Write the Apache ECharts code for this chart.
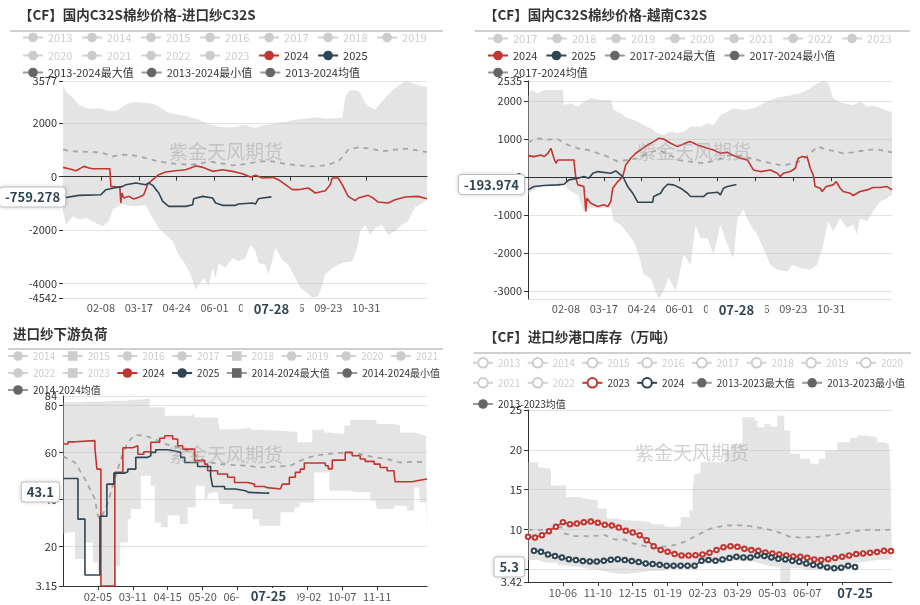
<!DOCTYPE html>
<html><head><meta charset="utf-8">
<script src="https://cdn.jsdelivr.net/npm/echarts@6/dist/echarts.min.js"></script>
<style>html,body{margin:0;padding:0;background:#fff}#c{width:920px;height:605px}</style>
</head><body><div id="c"></div>
<script>
// ================= DATA =================
// category axes: calendar year (with 02-29) and cotton season (09-01 .. 08-31)
function makeDays(y, m, n) {
  const out = [], t0 = Date.UTC(y, m, 1);
  for (let i = 0; i < n; i++) {
    const d = new Date(t0 + i * 86400000);
    out.push(String(d.getUTCMonth() + 1).padStart(2, '0') + '-' + String(d.getUTCDate()).padStart(2, '0'));
  }
  return out;
}
const calDays = makeDays(2024, 0, 366);
const seasonDays = makeDays(2023, 8, 366);
const topLabelStep = 38;     // 02-08, 03-17, 04-24 ...
const bottomLabelStep = 35;  // 02-05, 03-11 ... / 10-06, 11-10 ...

// ---- panel A: 国内C32S-进口纱C32S ----
const aHiddenYears = ['2013','2014','2015','2016','2017','2018','2019','2020','2021','2022','2023'];
const aBandDates = ['01-01','01-04','01-11','01-17','01-24','01-31','02-06','02-10','02-16','02-20','02-25','03-01','03-07','03-14','03-24','03-27','03-31','04-06','04-13','04-20','04-26','05-03','05-08','05-13','05-16','05-21','05-26','05-30','06-02','06-05','06-12','06-19','06-25','07-02','07-07','07-12','07-15','07-22','07-25','07-29','08-01','08-08','08-14','08-21','08-26','08-31','09-07','09-13','09-17','09-20','09-27','10-07','10-10','10-13','10-17','10-22','10-25','10-30','11-04','11-09','11-16','11-22','11-29','12-06','12-11','12-12','12-19','12-26','12-31'];
const aBandMax = [3439,3189,2940,2690,2566,2541,2566,2516,2466,2441,2478,2628,2753,2790,2753,2740,2728,2628,2441,2354,2316,2279,2216,2167,2129,2042,1967,1917,1892,1867,1842,1842,1892,1942,1867,1818,1867,1942,1942,1980,2005,2042,2067,2129,2142,2167,2204,2216,2192,2167,2179,2204,2940,3189,3227,3214,3127,2753,2591,2503,2815,3065,3314,3501,3577,3551,3464,3376,3376];
const aBandMin = [-1300,-1799,-1487,-1612,-1549,-1674,-1799,-1861,-1674,-1238,-1113,-1026,-1088,-1113,-1051,-1300,-1549,-1924,-2173,-2422,-2921,-3295,-3669,-4230,-4043,-3794,-4106,-3420,-3794,-3233,-3420,-3046,-3171,-3046,-2547,-2796,-3233,-3295,-3669,-3108,-2672,-3108,-3295,-3794,-4168,-4293,-4542,-4480,-4043,-3669,-3420,-3233,-3208,-3196,-3171,-2672,-2048,-1799,-2173,-1924,-1799,-2173,-2048,-1799,-1699,-1674,-1150,-1000,-880];
const aMean = [['01-01',1007],['01-11',945],['01-31',920],['02-10',882],['02-20',758],['03-01',820],['03-11',795],['03-24',695],['04-06',570],['04-16',508],['04-26',471],['05-06',446],['05-16',471],['05-26',570],['06-05',508],['06-19',421],['07-02',471],['07-15',570],['07-29',570],['08-11',471],['08-24',421],['09-07',383],['09-20',421],['10-03',570],['10-08',758],['10-13',1007],['10-23',1094],['11-05',1044],['11-16',945],['11-29',1007],['12-12',1044],['12-31',920]];
const a2024 = [['01-01',346],['01-07',296],['01-14',221],['01-16',171],['01-22',383],['01-24',446],['01-27',321],['01-31',296],['02-17',296],['02-18',-365],['02-27',-402],['02-28',-988],['02-29',-614],['03-02',-801],['03-07',-739],['03-12',-839],['03-17',-776],['03-22',-677],['03-26',-277],['03-31',-115],['04-06',72],['04-13',171],['04-23',221],['05-03',258],['05-10',346],['05-13',408],['05-20',346],['05-30',196],['06-09',258],['06-19',196],['06-29',109],['07-07',-16],['07-12',47],['07-19',-53],['07-29',-28],['08-04',-115],['08-11',-302],['08-18',-489],['08-24',-489],['09-03',-427],['09-10',-614],['09-20',-527],['09-25',-302],['09-27',-53],['10-03',-53],['10-07',-302],['10-13',-739],['10-20',-901],['10-23',-801],['11-02',-701],['11-07',-801],['11-12',-951],['11-22',-988],['11-29',-864],['12-09',-764],['12-22',-739],['12-31',-826]];
const a2025 = [['01-01',-801],['01-17',-701],['02-08',-677],['02-13',-489],['02-21',-427],['03-01',-365],['03-04',-302],['03-14',-240],['03-24',-302],['03-27',-240],['03-31',-327],['04-06',-614],['04-10',-926],['04-16',-1113],['05-03',-1113],['05-10',-1051],['05-11',-826],['05-20',-739],['05-30',-801],['06-02',-988],['06-09',-1075],['06-22',-1075],['06-25',-1026],['07-09',-988],['07-12',-1026],['07-15',-826],['07-19',-801],['07-28',-759.278]];

// ---- panel B: 国内C32S-越南C32S ----
const bHiddenYears = ['2017','2018','2019','2020','2021','2022','2023'];
const bBandDates = ['01-01','01-04','01-11','01-17','01-27','02-05','02-06','02-13','02-20','02-26','03-04','03-14','03-24','03-27','04-03','04-10','04-16','04-21','04-26','05-03','05-08','05-11','05-16','05-21','05-25','05-28','05-31','06-05','06-12','06-17','06-22','06-29','07-05','07-12','07-19','07-25','07-29','08-04','08-11','08-18','08-24','08-31','09-07','09-17','09-22','09-30','10-10','10-17','10-23','10-28','11-02','11-09','11-16','11-22','11-26','11-29','12-06','12-12','12-19','12-26','12-31'];
const bBandMax = [2122,2297,2209,2297,2297,2297,1902,1946,1859,1990,2078,2034,2034,1771,1683,1552,1508,1446,1376,1289,1201,1157,1113,1183,1201,1166,1175,1201,1332,1332,1332,1420,1376,1639,1727,1815,1797,1771,1797,1859,1946,2034,2095,2148,2166,2209,2341,2472,2535,2481,2078,1973,1920,1902,1946,2008,1859,1885,1832,1753,1727];
const bBandMin = [-466,-378,-273,-202,-220,-202,-202,-378,-466,-920,-800,-820,-800,-1167,-1255,-1474,-1693,-2044,-2570,-2658,-3009,-3209,-3009,-2658,-2833,-3009,-2658,-2044,-2307,-1255,-1606,-1606,-2044,-1255,-1781,-2132,-1079,-860,-1255,-1518,-1869,-2307,-2439,-2482,-2307,-2395,-2439,-2307,-1781,-1167,-1430,-1079,-1343,-1255,-1518,-1079,-1167,-904,-641,-553,-466];
const bMean = [['01-01',920],['01-11',1020],['01-21',990],['01-31',1000],['02-10',850],['02-20',762],['03-01',718],['03-11',631],['03-21',543],['03-31',412],['04-10',455],['04-20',499],['04-30',631],['05-10',718],['05-20',631],['05-30',455],['06-12',412],['06-25',368],['07-09',455],['07-22',587],['08-04',543],['08-18',455],['08-31',368],['09-13',306],['09-23',368],['10-03',455],['10-10',631],['10-17',806],['10-23',762],['11-02',692],['11-12',631],['11-22',657],['12-06',718],['12-16',736],['12-31',657]];
const b2024 = [['01-01',569],['01-07',543],['01-14',587],['01-17',543],['01-21',631],['01-24',762],['01-27',499],['01-29',368],['01-31',455],['02-16',455],['02-18',-27],['02-20',-202],['02-26',-246],['02-28',-904],['02-29',-553],['03-04',-685],['03-11',-772],['03-17',-728],['03-21',-772],['03-24',-641],['03-26',-290],['03-31',-115],['04-05',17],['04-08',324],['04-13',499],['04-18',631],['04-23',718],['04-30',850],['05-06',938],['05-11',1025],['05-16',1008],['05-23',894],['05-30',806],['06-09',920],['06-12',938],['06-19',850],['06-29',762],['07-05',718],['07-12',631],['07-19',657],['07-25',569],['08-01',499],['08-08',455],['08-11',324],['08-14',192],['08-21',148],['08-31',192],['09-07',105],['09-10',17],['09-13',105],['09-20',148],['09-25',236],['09-28',499],['10-02',543],['10-07',526],['10-10',236],['10-13',61],['10-15',-246],['10-20',-290],['10-22',-378],['10-26',-246],['11-02',-202],['11-05',-115],['11-09',-290],['11-12',-378],['11-19',-422],['11-22',-483],['11-29',-378],['12-06',-334],['12-12',-273],['12-19',-273],['12-26',-246],['12-31',-334]];
const b2025 = [['01-01',-334],['01-07',-246],['01-17',-220],['01-31',-202],['02-06',-185],['02-11',-70],['02-20',-27],['02-26',17],['03-02',-27],['03-06',105],['03-11',148],['03-24',105],['03-29',166],['04-03',61],['04-06',-27],['04-10',-246],['04-15',-422],['04-20',-658],['05-05',-658],['05-06',-509],['05-13',-422],['05-16',-290],['05-20',-185],['05-26',-202],['06-02',-290],['06-09',-422],['06-12',-509],['06-25',-509],['06-29',-422],['07-09',-395],['07-12',-465],['07-15',-290],['07-19',-246],['07-28',-193.974]];

// ---- panel C: 进口纱下游负荷 ----
const cHiddenYears = ['2014','2015','2016','2017','2018','2019','2020','2021','2022','2023'];
const cBandDates = ['01-01','01-06','01-13','01-19','01-23','01-31','02-05','02-08','02-23','02-27','03-06','03-09','03-19','03-28','03-29','04-02','04-08','04-12','04-15','04-27','05-05','05-08','05-12','05-13','05-22','05-25','06-01','06-04','06-06','06-19','06-24','07-07','07-09','07-16','08-06','08-20','08-23','08-25','09-07','09-09','09-19','09-22','09-24','10-09','10-15','10-22','11-04','11-09','11-11','11-28','12-04','12-11','12-18','12-23','12-24','12-30','12-31'];
const cBandMax = [81.3,81.3,81.3,81.6,81.6,81.6,81.6,82.0,82.0,82.0,82.4,82.4,83.0,79.2,79.2,79.2,79.2,75.6,75.6,75.6,75.6,76.3,74.9,74.9,74.9,74.9,74.9,74.9,69.9,69.9,70.6,69.6,69.6,69.2,68.8,68.8,64.3,64.3,69.6,69.6,68.5,67.8,67.8,71.4,73.9,73.9,73.9,73.9,72.1,71.4,68.5,68.5,67.8,67.8,67.1,67.1,67.1];
const cBandMin = [25.3,26.0,14.6,14.6,21.7,13.2,9.0,3.15,11.8,21.7,31.6,35.9,50.1,50.1,45.8,30.2,28.1,28.1,33.1,29.5,36.6,36.6,36.6,45.8,40.2,42.3,43.0,38.0,38.0,35.9,35.9,35.9,31.6,28.8,34.5,36.6,36.6,38.7,38.7,51.5,51.5,51.5,43.7,43.7,43.7,43.0,39.5,35.9,35.9,37.3,37.3,35.2,45.1,38.7,38.7,26.0,26.0];
const cMean = [['01-01',58.3],['01-13',55.7],['01-23',48.7],['02-02',40.2],['02-05',33.0],['02-08',31.6],['02-15',38.7],['02-22',48.7],['02-28',57.2],['03-06',64.3],['03-13',67.4],['03-23',67.1],['04-02',65.7],['04-08',64.3],['04-18',62.8],['04-28',62.1],['05-08',60.0],['05-18',57.2],['05-28',55.7],['06-07',55.0],['06-21',54.6],['07-04',54.3],['07-17',53.6],['08-03',54.0],['08-16',54.3],['08-26',56.5],['09-09',58.6],['09-22',59.3],['10-12',60.0],['10-25',59.3],['11-08',57.9],['11-21',57.2],['12-04',55.7],['12-18',56.0],['12-31',55.7]];
const c2024 = [['01-01',63.6],['01-06',64.5],['01-13',65.0],['02-02',62.0],['02-04',52.9],['02-08',3.15],['02-22',51.5],['03-01',62.0],['03-11',62.8],['03-16',59.2],['03-22',60.3],['03-29',64.3],['04-07',66.0],['04-12',67.1],['04-20',65.7],['04-25',62.8],['04-30',61.4],['05-12',56.5],['05-22',55.0],['05-25',52.2],['06-04',50.8],['06-14',49.4],['06-21',47.2],['07-04',46.5],['07-11',45.5],['07-21',45.0],['07-24',44.4],['08-06',45.1],['08-08',46.5],['08-15',49.4],['08-21',51.5],['08-26',52.9],['08-30',55.5],['09-20',54.3],['09-23',53.0],['09-27',56.7],['10-10',60.0],['10-17',58.6],['10-25',57.2],['10-30',56.2],['11-08',55.0],['11-14',53.6],['11-21',52.2],['11-28',51.0],['11-29',47.5],['12-16',47.9],['12-21',48.7],['12-31',48.7]];
const c2025 = [['01-01',48.9],['01-16',31.6],['01-23',7.8],['02-07',32.8],['02-14',46.5],['02-21',51.2],['03-03',51.8],['03-06',52.9],['03-14',57.9],['03-26',58.6],['03-29',60.0],['04-03',61.1],['04-15',60.6],['04-22',60.0],['04-28',57.9],['05-02',55.7],['05-15',54.0],['05-28',50.1],['05-30',45.5],['06-11',44.4],['06-22',43.7],['07-02',43.0],['07-05',42.6],['07-25',43.1]];

// ---- panel D: 进口纱港口库存（万吨） ----
const dHiddenYears = ['2013','2014','2015','2016','2017','2018','2019','2020','2021','2022'];
const dBandDates = ['09-01','09-11','09-14','09-24','10-01','10-09','10-23','10-28','11-10','11-19','11-30','12-07','12-20','01-02','01-16','01-29','02-01','02-10','02-13','02-15','02-21','03-11','03-16','03-22','04-03','04-15','04-18','04-25','05-01','05-08','05-11','05-15','05-21','05-31','06-10','06-17','06-19','06-25','07-07','07-20','07-27','08-03','08-16','08-23','08-28','08-29','08-31'];
const dBandMax = [18.46,17.8,17.63,15.54,15.54,14.09,13.9,13.67,12.63,11.38,11.17,11.1,10.96,10.67,10.34,10.55,11.58,12.42,14.92,17.0,18.46,18.58,19.92,20.75,24.09,23.67,22.84,23.25,22.92,24.3,24.3,22.42,19.5,18.88,18.25,17.84,18.88,19.92,20.96,21.5,21.8,21.6,20.96,20.75,20.3,19.09,19.09];
const dBandMin = [6.17,6.17,6.0,5.84,5.54,5.45,5.3,5.13,4.92,4.7,4.5,4.42,4.59,4.84,5.13,5.3,5.33,5.54,5.6,5.6,5.84,5.96,6.0,6.08,6.08,5.96,5.84,5.6,5.4,5.33,3.42,3.42,5.13,5.13,4.92,4.92,5.0,5.1,5.1,5.75,5.84,5.96,6.17,6.2,6.25,6.59,6.59];
const dMean = [['09-01',10.0],['09-11',9.92],['09-24',10.13],['10-04',10.34],['10-08',9.5],['10-18',9.17],['11-03',9.17],['11-17',9.3],['11-27',8.75],['12-07',8.75],['12-13',8.34],['12-27',7.92],['01-09',7.84],['01-22',7.92],['02-05',8.46],['02-18',9.3],['03-02',10.13],['03-16',10.5],['03-29',10.55],['04-11',10.42],['04-25',10.13],['05-08',9.71],['05-21',9.09],['05-31',9.0],['06-17',9.09],['06-30',9.3],['07-14',9.5],['07-27',9.84],['08-09',10.0],['08-23',9.92],['08-31',10.0]];
const d2023Dates = ['09-01','09-08','09-15','09-22','09-29','10-06','10-13','10-20','10-27','11-03','11-10','11-17','11-24','12-01','12-08','12-15','12-22','12-29','01-05','01-12','01-19','01-26','02-02','02-09','02-16','02-23','03-01','03-08','03-15','03-22','03-29','04-05','04-12','04-19','04-26','05-03','05-10','05-17','05-24','05-31','06-07','06-14','06-21','06-28','07-05','07-12','07-19','07-26','08-02','08-09','08-16','08-23','08-30'];
const d2023Values = [9.09,9.0,9.3,9.79,10.34,10.92,10.67,10.75,10.92,11.0,10.84,10.59,10.5,10.25,9.84,9.63,9.3,8.67,7.92,7.42,7.21,6.92,6.75,6.75,6.79,6.88,7.09,7.42,7.79,7.92,7.84,7.59,7.42,7.34,7.13,7.0,6.88,6.75,6.63,6.59,6.46,6.25,6.17,6.29,6.42,6.59,6.75,6.92,7.0,7.09,7.17,7.34,7.3];
const d2024Dates = ['09-07','09-14','09-21','09-28','10-05','10-12','10-19','10-26','11-02','11-09','11-16','11-23','11-30','12-07','12-14','12-21','12-28','01-04','01-11','01-18','01-25','02-01','02-08','02-15','02-22','02-29','03-07','03-14','03-21','03-28','04-04','04-11','04-18','04-25','05-02','05-09','05-16','05-23','05-30','06-06','06-13','06-20','06-27','07-04','07-11','07-18','07-25'];
const d2024Values = [7.34,7.21,6.88,6.67,6.5,6.29,6.17,6.04,6.0,6.0,6.08,6.21,6.29,6.17,6.04,5.92,5.75,5.67,5.58,5.46,5.46,5.46,5.46,5.46,6.08,6.17,6.08,6.25,6.42,6.59,6.5,6.5,6.75,6.67,6.5,6.33,6.25,6.08,5.96,5.75,5.58,5.46,5.25,5.13,5.21,5.46,5.3];

// ================= STYLE / BUILD =================
const RED = '#c23531', DARK = '#2f4554', GREY = '#666';
const FONT = "'Noto Sans CJK SC', 'Noto Sans', sans-serif";
const lastOf = arr => arr[arr.length - 1];
const intervalFn = step => (idx) => idx > 0 && idx % step === 0 && idx < 340;

const series = [];
function ghost(prefix, years, xi, yi, symbolFor) {
  years.forEach(y => series.push({
    name: prefix + y, type: 'line', xAxisIndex: xi, yAxisIndex: yi, data: [],
    symbol: symbolFor ? symbolFor(y) : 'circle', itemStyle: { color: '#ccc' }
  }));
}
function band(prefix, maxName, minName, dates, maxArr, minArr, xi, yi, step, maxSymbol) {
  series.push({
    name: prefix + minName, type: 'line', xAxisIndex: xi, yAxisIndex: yi,
    data: dates.map((d, i) => [d, minArr[i]]), stack: prefix + 'band', stackStrategy: 'all',
    step: step, symbol: 'circle', showSymbol: false, silent: true,
    lineStyle: { opacity: 0 }, itemStyle: { color: GREY }
  });
  series.push({
    name: prefix + maxName, type: 'line', xAxisIndex: xi, yAxisIndex: yi,
    data: dates.map((d, i) => [d, +(maxArr[i] - minArr[i]).toFixed(3)]), stack: prefix + 'band', stackStrategy: 'all',
    step: step, symbol: maxSymbol || 'circle', showSymbol: false, silent: true,
    lineStyle: { opacity: 0 }, itemStyle: { color: GREY },
    areaStyle: { color: 'rgba(190,190,190,0.42)', opacity: 1 }
  });
}
function meanLine(prefix, name, data, xi, yi) {
  series.push({
    name: prefix + name, type: 'line', xAxisIndex: xi, yAxisIndex: yi, data: data,
    symbol: 'circle', showSymbol: false, silent: true, itemStyle: { color: GREY },
    lineStyle: { color: '#a6a6a6', width: 1.8, type: [5, 5] }
  });
}
function mainLine(prefix, name, data, color, xi, yi, extra) {
  series.push(Object.assign({
    name: prefix + name, type: 'line', xAxisIndex: xi, yAxisIndex: yi, data: data,
    symbol: 'circle', showSymbol: false, silent: true, itemStyle: { color: color },
    lineStyle: { color: color, width: 1.6 }
  }, extra || {}));
}

// Panel A
ghost('A|', aHiddenYears, 0, 0);
band('A|', '2013-2024最大值', '2013-2024最小值', aBandDates, aBandMax, aBandMin, 0, 0);
meanLine('A|', '2013-2024均值', aMean, 0, 0);
mainLine('A|', '2024', a2024, RED, 0, 0);
mainLine('A|', '2025', a2025, DARK, 0, 0);
// Panel B
ghost('B|', bHiddenYears, 2, 1);
band('B|', '2017-2024最大值', '2017-2024最小值', bBandDates, bBandMax, bBandMin, 2, 1);
meanLine('B|', '2017-2024均值', bMean, 2, 1);
mainLine('B|', '2024', b2024, RED, 2, 1);
mainLine('B|', '2025', b2025, DARK, 2, 1);
// Panel C
const cRect = y => (y === '2015' || y === '2018' || y === '2023') ? 'rect' : 'circle';
ghost('C|', cHiddenYears, 4, 2, cRect);
band('C|', '2014-2024最大值', '2014-2024最小值', cBandDates, cBandMax, cBandMin, 4, 2, 'end', 'rect');
meanLine('C|', '2014-2024均值', cMean, 4, 2);
mainLine('C|', '2024', c2024, RED, 4, 2, { step: 'end' });
mainLine('C|', '2025', c2025, DARK, 4, 2, { step: 'end' });
// Panel D
ghost('D|', dHiddenYears, 5, 3, () => 'emptyCircle');
band('D|', '2013-2023最大值', '2013-2023最小值', dBandDates, dBandMax, dBandMin, 5, 3, 'end');
meanLine('D|', '2013-2023均值', dMean, 5, 3);
mainLine('D|', '2023', d2023Dates.map((d, i) => [d, d2023Values[i]]), RED, 5, 3,
  { symbol: 'emptyCircle', showSymbol: true, showAllSymbol: true, symbolSize: 4.5, lineStyle: { color: RED, width: 1.5 } });
mainLine('D|', '2024', d2024Dates.map((d, i) => [d, d2024Values[i]]), DARK, 5, 3,
  { symbol: 'emptyCircle', showSymbol: true, showAllSymbol: true, symbolSize: 4.5, lineStyle: { color: DARK, width: 1.5 } });

// legends
const statStyle = { itemStyle: { color: GREY }, lineStyle: { color: '#999', width: 2, type: 'solid', opacity: 1 } };
function legendRow(prefix, names, left, top, gap, fs, hidden, statNames) {
  const selected = {};
  (hidden || []).forEach(n => { if (names.indexOf(n) >= 0) selected[prefix + n] = false; });
  return {
    left: left, top: top, width: 460, padding: 0, itemGap: gap, itemWidth: 20, itemHeight: 12,
    orient: 'horizontal', selected: selected, inactiveColor: '#ccc', inactiveBorderColor: '#ccc',
    textStyle: { fontSize: fs, color: '#333', fontFamily: FONT },
    formatter: n => n.split('|')[1],
    data: names.map(n => (statNames && statNames.indexOf(n) >= 0)
      ? Object.assign({ name: prefix + n }, statStyle) : prefix + n)
  };
}
const aStats = ['2013-2024最大值', '2013-2024最小值', '2013-2024均值'];
const bStats = ['2017-2024最大值', '2017-2024最小值', '2017-2024均值'];
const cStats = ['2014-2024最大值', '2014-2024最小值', '2014-2024均值'];
const dStats = ['2013-2023最大值', '2013-2023最小值', '2013-2023均值'];
const legends = [
  legendRow('A|', aHiddenYears.slice(0, 7), 22, 32, 8.6, 11, aHiddenYears),
  legendRow('A|', aHiddenYears.slice(7).concat(['2024', '2025']), 22, 50, 8.6, 11, aHiddenYears),
  legendRow('A|', aStats, 22, 67, 7, 11, [], aStats),
  legendRow('B|', bHiddenYears, 487, 33, 8.6, 11, bHiddenYears),
  legendRow('B|', ['2024', '2025'].concat(bStats.slice(0, 2)), 487, 50, 8, 11, [], bStats),
  legendRow('B|', bStats.slice(2), 487, 67, 10, 11, [], bStats),
  legendRow('C|', cHiddenYears.slice(0, 8), 7, 351, 6.5, 10, cHiddenYears),
  legendRow('C|', cHiddenYears.slice(8).concat(['2024', '2025']).concat(cStats.slice(0, 2)), 7, 368, 6.5, 10, cHiddenYears, cStats),
  legendRow('C|', cStats.slice(2), 7, 385, 6.5, 10, [], cStats),
  legendRow('D|', dHiddenYears.slice(0, 8), 472, 357, 6.5, 10, dHiddenYears),
  legendRow('D|', dHiddenYears.slice(8).concat(['2023', '2024']).concat(dStats.slice(0, 2)), 472, 377, 6.5, 10, dHiddenYears, dStats),
  legendRow('D|', dStats.slice(2), 472, 399, 6.5, 10, [], dStats)
];

// axes
const xPtrLabel = { show: true, backgroundColor: '#fff', color: DARK, fontWeight: 'bold', fontSize: 13,
  fontFamily: FONT, padding: [2, 11], borderWidth: 0, shadowBlur: 0, margin: 3 };
const yPtrLabel = { show: true, backgroundColor: '#fff', color: DARK, fontWeight: 'bold', fontSize: 13,
  fontFamily: FONT, padding: [3, 5], borderColor: '#ccc', borderWidth: 1, borderRadius: 3,
  shadowBlur: 4, shadowColor: 'rgba(0,0,0,0.15)', margin: 4, formatter: p => String(p.value) };
function xPtr(val) { return { show: true, type: 'none', value: val, status: 'show', snap: false, triggerTooltip: false, label: xPtrLabel }; }
function yPtr(val) { return { show: true, type: 'none', value: val, status: 'show', snap: false, triggerTooltip: false, label: yPtrLabel }; }

const xLabelStyle = { color: '#555', fontSize: 11, fontFamily: FONT, margin: 4 };
function zeroAxis(grid) {
  return { gridIndex: grid, type: 'category', data: calDays, boundaryGap: false, position: 'bottom', z: 3,
    axisLine: { onZero: true, lineStyle: { color: '#333', width: 1 } },
    axisTick: { interval: intervalFn(topLabelStep), length: 4, lineStyle: { color: '#333' } },
    axisLabel: { show: false }, splitLine: { show: false } };
}
function labelAxis(grid, ptr) {
  return { gridIndex: grid, type: 'category', data: calDays, boundaryGap: false, position: 'bottom',
    axisLine: { show: false, onZero: false }, axisTick: { show: false },
    axisLabel: Object.assign({ interval: intervalFn(topLabelStep) }, xLabelStyle),
    splitLine: { show: false }, axisPointer: xPtr(ptr) };
}
function bottomAxis(grid, cats, ptr) {
  return { gridIndex: grid, type: 'category', data: cats, boundaryGap: false, position: 'bottom',
    axisLine: { onZero: false, lineStyle: { color: '#333' } },
    axisTick: { interval: intervalFn(bottomLabelStep), length: 4, lineStyle: { color: '#333' } },
    axisLabel: Object.assign({ interval: intervalFn(bottomLabelStep) }, xLabelStyle, { margin: 5 }),
    splitLine: { show: false }, axisPointer: xPtr(ptr) };
}
function yAx(grid, min, max, showLine, ptrVal, extraLabel) {
  return { gridIndex: grid, type: 'value', min: min, max: max,
    axisLine: { show: showLine, lineStyle: { color: '#333' } },
    axisTick: { show: true, length: 4, lineStyle: { color: '#333' } },
    axisLabel: Object.assign({ color: '#333', fontSize: 11, fontFamily: FONT, margin: 6,
      showMinLabel: true, showMaxLabel: true, formatter: v => String(v) }, extraLabel || {}),
    splitLine: { lineStyle: { color: '#e3e3e3' } },
    axisPointer: yPtr(ptrVal) };
}
// overlay axis on panel C that only carries the top-extent label (drawn overlapping "80" as in the source)
const cMaxLabelAxis = { gridIndex: 2, type: 'value', min: 3.15, max: 84, position: 'left',
  axisLine: { show: false }, axisTick: { show: false }, splitLine: { show: false },
  axisLabel: { color: '#333', fontSize: 11, fontFamily: FONT, margin: 6, showMinLabel: false, showMaxLabel: true,
    formatter: v => (v === 84 ? String(v) : '') } };

const titleStyle = { fontSize: 13.5, fontWeight: 'bold', color: '#333', fontFamily: FONT };
const wm = (x, y) => ({ type: 'text', x: x, y: y, z: 100, silent: true,
  style: { text: '紫金天风期货', fontSize: 19, fontFamily: FONT, fill: 'rgba(150,150,150,0.42)', align: 'center', verticalAlign: 'middle' } });
const sep = (x1, x2, y) => ({ type: 'line', z: 100, silent: true, shape: { x1: x1, y1: y, x2: x2, y2: y }, style: { stroke: '#a0a0a0', lineWidth: 1.2 } });

const option = {
  animation: false,
  backgroundColor: '#fff',
  textStyle: { fontFamily: FONT },
  title: [
    { text: '【CF】国内C32S棉纱价格-进口纱C32S', left: 19, top: 8, padding: 0, textStyle: titleStyle },
    { text: '【CF】国内C32S棉纱价格-越南C32S', left: 484, top: 8, padding: 0, textStyle: titleStyle },
    { text: '进口纱下游负荷', left: 13, top: 327, padding: 0, textStyle: titleStyle },
    { text: '【CF】进口纱港口库存（万吨）', left: 484, top: 330, padding: 0, textStyle: titleStyle }
  ],
  legend: legends,
  grid: [
    { left: 63, top: 81, width: 364, height: 217 },
    { left: 528, top: 81, width: 364, height: 218 },
    { left: 63, top: 396, width: 364, height: 190 },
    { left: 528, top: 410, width: 364, height: 172 }
  ],
  xAxis: [
    zeroAxis(0), labelAxis(0, '07-28'),
    zeroAxis(1), labelAxis(1, '07-28'),
    bottomAxis(2, calDays, '07-25'),
    bottomAxis(3, seasonDays, '07-25')
  ],
  yAxis: [
    yAx(0, -4542, 3577, false, lastOf(a2025)[1]),
    yAx(1, -3209, 2535, true, lastOf(b2025)[1], { showMinLabel: false }),
    yAx(2, 3.15, 84, true, lastOf(c2025)[1], { showMaxLabel: false }),
    yAx(3, 3.42, 25, true, lastOf(d2024Values)),
    cMaxLabelAxis
  ],
  graphic: [
    sep(10, 443, 31), sep(475, 910, 31), sep(8, 443, 349), sep(474, 911, 353),
    wm(226, 152), wm(694, 152), wm(226, 455), wm(692, 453)
  ],
  series: series
};

const chart = echarts.init(document.getElementById('c'), null, { renderer: 'canvas' });
chart.setOption(option);
</script>
</body></html>
